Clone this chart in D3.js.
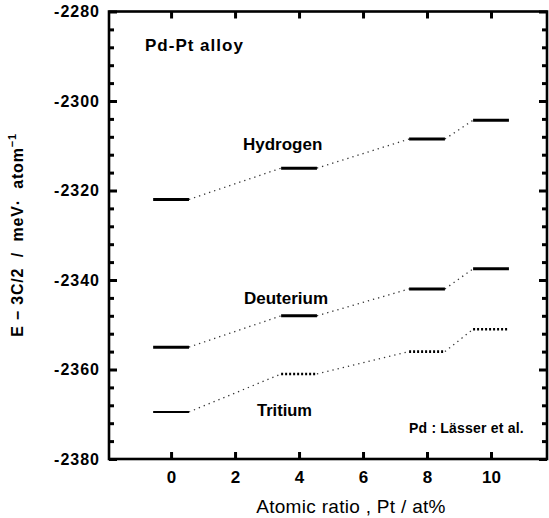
<!DOCTYPE html>
<html>
<head>
<meta charset="utf-8">
<title>Pd-Pt alloy</title>
<script src="https://d3js.org/d3.v7.min.js"></script>
<style>
  body { margin: 0; background: #fff; }
  text { font-family: "Liberation Sans", Arial, sans-serif; fill: #000; }
</style>
</head>
<body>
<div class="box"></div>
<script>
// data
var ptRatio = [0, 4, 8, 10];
var hydrogen = [-2322, -2315, -2308.5, -2304.3];
var deuterium = [-2355, -2348, -2342, -2337.5];
var tritium = [-2369.5, -2361, -2356, -2351];
var xTicks = [0, 2, 4, 6, 8, 10];
var yTicks = [-2380, -2360, -2340, -2320, -2300, -2280];

var width = 549, height = 518;
var plotL = 109, plotR = 547, plotT = 11.5, plotB = 459;
var halfBar = 0.56; // half width of a level bar, in at%

var x = d3.scaleLinear().domain([-1.94, 11.75]).range([plotL, plotR]);
var y = d3.scaleLinear().domain([-2380, -2280]).range([plotB, plotT]);

var svg = d3.select("div.box").append("svg")
    .attr("width", width)
    .attr("height", height);

var yMinor = d3.range(-2380, -2279, 4).filter(function(v) { return v % 20 !== 0; });

// frame
svg.append("rect")
    .attr("x", plotL).attr("y", plotT)
    .attr("width", plotR - plotL).attr("height", plotB - plotT)
    .attr("fill", "none").attr("stroke", "#000").attr("stroke-width", 2.6);

// inward ticks: left/right through axis generators, labels only on the left
function yTickAxis(vals, len, labelled) {
    var axL = d3.axisLeft(y).tickValues(vals).tickSize(-len).tickPadding(9 - len)
        .tickFormat(labelled ? function(d) { return "-" + Math.abs(d); } : "");
    var axR = d3.axisRight(y).tickValues(vals).tickSize(-len).tickFormat("");
    var gl = svg.append("g").attr("transform", "translate(" + plotL + ",0)").call(axL);
    svg.append("g").attr("transform", "translate(" + plotR + ",0)").call(axR);
    return gl;
}
yTickAxis(yMinor, 5, false);
var yAxis = yTickAxis(yTicks, 8, true);
yAxis.selectAll("text")
    .attr("x", -9)
    .style("font-size", "16px").style("font-weight", "bold")
    .style("letter-spacing", "1px");

var xAxis = svg.append("g")
    .attr("transform", "translate(0," + plotB + ")")
    .call(d3.axisBottom(x).tickValues(xTicks).tickSize(-7).tickPadding(12));
xAxis.selectAll("text")
    .style("font-size", "17px").style("font-weight", "bold");
svg.append("g")
    .attr("transform", "translate(0," + plotT + ")")
    .call(d3.axisTop(x).tickValues(xTicks).tickSize(-7).tickFormat(""));

svg.selectAll(".domain").remove();
svg.selectAll(".tick line")
    .style("stroke", "#000")
    .style("stroke-width", "3px");

// level series
var series = [
    { name: "Hydrogen", values: hydrogen, dotted: false },
    { name: "Deuterium", values: deuterium, dotted: false },
    { name: "Tritium", values: tritium, dotted: true }
];

series.forEach(function(s) {
    var g = svg.append("g");
    // connectors between bars
    for (var i = 0; i < ptRatio.length - 1; i++) {
        g.append("line")
            .attr("x1", x(ptRatio[i] + halfBar)).attr("y1", y(s.values[i]))
            .attr("x2", x(ptRatio[i + 1] - halfBar)).attr("y2", y(s.values[i + 1]))
            .attr("stroke", "#333").attr("stroke-width", 1.3)
            .attr("stroke-dasharray", "1.3,4");
    }
    g.selectAll("line.bar")
        .data(s.values)
        .enter()
        .append("line")
        .attr("class", "bar")
        .attr("x1", function(d, i) { return x(ptRatio[i] - halfBar); })
        .attr("x2", function(d, i) { return x(ptRatio[i] + halfBar); })
        .attr("y1", function(d) { return y(d); })
        .attr("y2", function(d) { return y(d); })
        .attr("stroke", "#000")
        .attr("stroke-width", function(d, i) { return s.dotted ? (i === 0 ? 2 : 2.6) : 3; })
        .attr("stroke-dasharray", function(d, i) { return s.dotted && i > 0 ? "2,2" : null; });
});

// annotations
function label(txt, tx, ty, size, weight, anchor, spacing) {
    return svg.append("text")
        .attr("x", tx).attr("y", ty)
        .attr("text-anchor", anchor || "start")
        .style("font-size", size + "px")
        .style("font-weight", weight)
        .style("letter-spacing", (spacing || 0) + "px")
        .text(txt);
}
label("Pd-Pt alloy", 145, 51, 17, "bold", "start", 1);
label("Hydrogen", 243, 150, 17, "bold");
label("Deuterium", 244, 304, 17, "bold");
label("Tritium", 257, 416, 16.5, "bold");
label("Pd : Lässer et al.", 409, 433, 14, "bold", "start", 0.2);
label("Atomic ratio , Pt / at%", 351, 513, 19, "normal", "middle", 0.3);

svg.append("text")
    .attr("transform", "translate(23,235) rotate(-90)")
    .attr("text-anchor", "middle")
    .style("font-size", "16px")
    .style("font-weight", "bold")
    .style("letter-spacing", "0.8px")
    .html("E \u2212 3C/2&#160;&#160;/&#160;&#160;meV\u00b7&#160;&#160;atom<tspan dy='-7' font-size='11px'>\u22121</tspan>");
</script>
</body>
</html>
